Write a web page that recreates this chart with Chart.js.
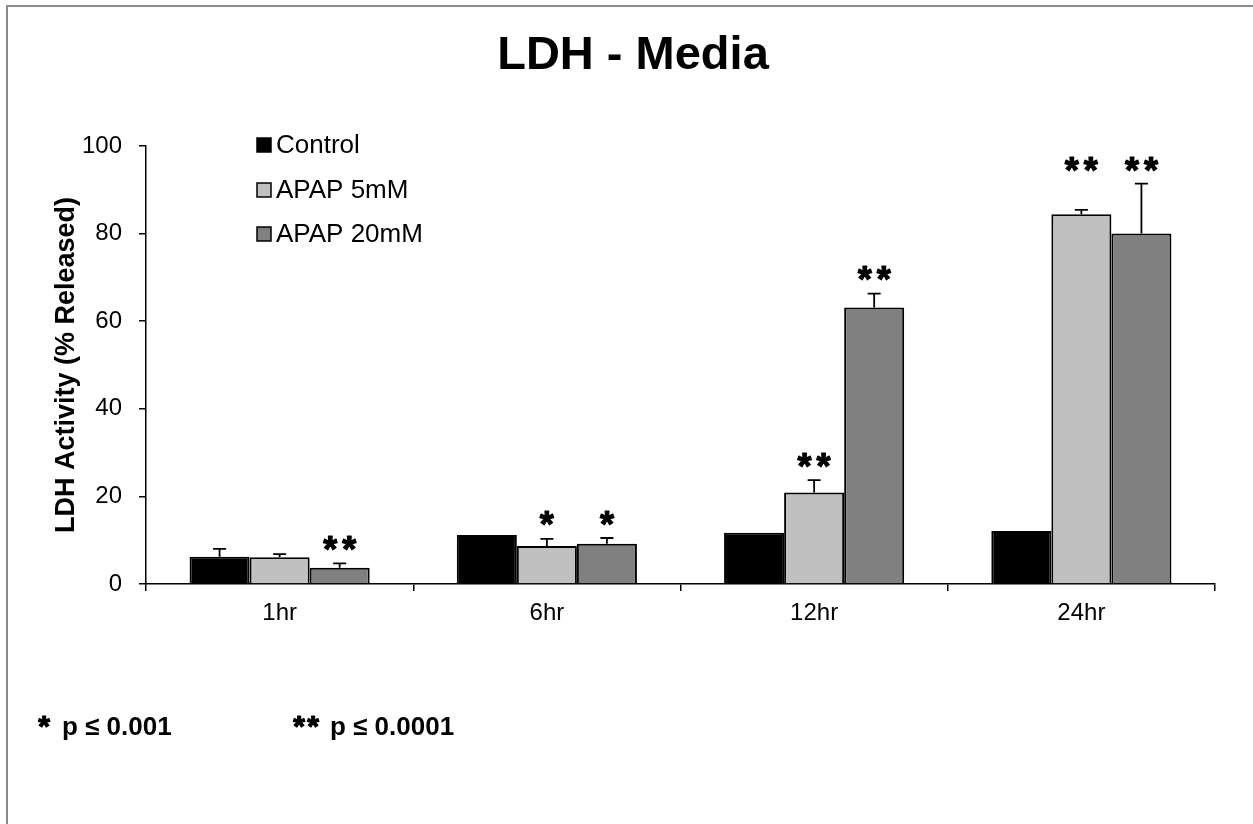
<!DOCTYPE html>
<html>
<head>
<meta charset="utf-8">
<title>LDH - Media</title>
<script src="https://cdn.jsdelivr.net/npm/chart.js@4/dist/chart.umd.min.js"></script>
<style>
  html, body { margin: 0; padding: 0; background: #ffffff; }
  canvas { display: block; }
</style>
</head>
<body>
<canvas id="ldh" width="1253" height="824"></canvas>
<script>
// Time points and groups
const timepoints = ['1hr', '6hr', '12hr', '24hr'];
const seriesNames = ['Control', 'APAP 5mM', 'APAP 20mM'];

// Mean LDH released (%)
const controlMean = [6.2, 11.2, 11.7, 12.1];
const apap5Mean   = [6.1, 8.7, 20.9, 84.4];
const apap20Mean  = [3.7, 9.2, 63.1, 80.0];

// Upper error (SD)
const controlErr = [1.8, 0, 0, 0];
const apap5Err   = [0.7, 1.6, 2.8, 1.0];
const apap20Err  = [1.0, 1.3, 3.2, 11.4];

// Significance markers vs control
const controlSig = ['', '', '', ''];
const apap5Sig   = ['', '*', '**', '**'];
const apap20Sig  = ['**', '*', '**', '**'];

// Y axis ticks
const yTicks = [0, 20, 40, 60, 80, 100];

// Footnotes: marker and its p-value threshold
const footStars = ['*', '**'];
const footTexts = ['p \u2264 0.001', 'p \u2264 0.0001'];

const FONT = "'Liberation Sans', Arial, Helvetica, sans-serif";
const fills = ['#000000', '#c0c0c0', '#808080'];

const errorSets = [controlErr, apap5Err, apap20Err];
const sigSets = [controlSig, apap5Sig, apap20Sig];

// draws a run of heavy asterisks, centred on x, glyph centres `gap` apart
function drawStars(ctx, mark, x, cy, size, gap) {
  ctx.font = 'bold ' + size + 'px ' + FONT;
  ctx.textAlign = 'center';
  ctx.textBaseline = 'alphabetic';
  ctx.strokeStyle = '#000';
  ctx.lineWidth = 1.2;
  ctx.lineJoin = 'round';
  const n = mark.length;
  for (let k = 0; k < n; k++) {
    const sx = x + (k - (n - 1) / 2) * gap;
    ctx.fillText('*', sx, cy + 0.58 * size);
    ctx.strokeText('*', sx, cy + 0.58 * size);
  }
}

// Plus-only error bars and significance stars
const errorBarPlugin = {
  id: 'errorBars',
  afterDatasetsDraw(chart) {
    const ctx = chart.ctx;
    const y = chart.scales.y;
    const tops = []; // [category][dataset] -> value at top of whisker
    chart.data.datasets.forEach((ds, di) => {
      const meta = chart.getDatasetMeta(di);
      meta.data.forEach((bar, i) => {
        const err = errorSets[di][i];
        const top = ds.data[i] + err;
        (tops[i] = tops[i] || [])[di] = top;
        if (!err) return;
        const yTop = y.getPixelForValue(top);
        const yBase = y.getPixelForValue(ds.data[i]);
        ctx.save();
        ctx.strokeStyle = '#000';
        ctx.lineWidth = 1.8;
        ctx.beginPath();
        ctx.moveTo(bar.x, yBase);
        ctx.lineTo(bar.x, yTop);
        ctx.moveTo(bar.x - 6.5, yTop);
        ctx.lineTo(bar.x + 6.5, yTop);
        ctx.stroke();
        ctx.restore();
      });
    });
    // stars
    ctx.save();
    ctx.fillStyle = '#000';
    chart.data.datasets.forEach((ds, di) => {
      const meta = chart.getDatasetMeta(di);
      meta.data.forEach((bar, i) => {
        const mark = sigSets[di][i];
        if (!mark) return;
        // align with a neighbouring starred bar of similar height
        let anchor = tops[i][di];
        sigSets.forEach((s, dj) => {
          if (dj !== di && s[i] && Math.abs(tops[i][dj] - tops[i][di]) < 15) {
            anchor = Math.max(anchor, tops[i][dj]);
          }
        });
        const cy = y.getPixelForValue(anchor) - 22;
        drawStars(ctx, mark, bar.x, cy, 36, 19);
      });
    });
    ctx.restore();
  }
};

// Frame, title, legend and footnotes
const decorPlugin = {
  id: 'decor',
  afterDraw(chart) {
    const ctx = chart.ctx;
    ctx.save();
    // frame
    ctx.strokeStyle = '#8c8c8c';
    ctx.lineWidth = 2;
    ctx.beginPath();
    ctx.moveTo(7, 824);
    ctx.lineTo(7, 6);
    ctx.lineTo(1253, 6);
    ctx.stroke();

    // title
    ctx.fillStyle = '#000';
    ctx.textAlign = 'center';
    ctx.textBaseline = 'middle';
    ctx.font = 'bold 47px ' + FONT;
    ctx.fillText('LDH - Media', 633, 56);

    // legend
    ctx.textAlign = 'left';
    ctx.font = '26px ' + FONT;
    const rows = [145, 190, 234];
    chart.data.datasets.forEach((ds, di) => {
      const cy = rows[di];
      ctx.fillStyle = ds.backgroundColor;
      ctx.fillRect(257, cy - 7, 14, 14);
      ctx.strokeStyle = '#000';
      ctx.lineWidth = 1.5;
      ctx.strokeRect(257, cy - 7, 14, 14);
      ctx.fillStyle = '#000';
      ctx.fillText(ds.label, 276, cy + 1);
    });

    // footnotes
    const starX = [44, 306];
    const textX = [62, 330];
    footStars.forEach((m, k) => {
      drawStars(ctx, m, starX[k], 719, 30, 14);
      ctx.font = 'bold 26px ' + FONT;
      ctx.textAlign = 'left';
      ctx.textBaseline = 'alphabetic';
      ctx.fillText(footTexts[k], textX[k], 735);
    });
    ctx.restore();
  }
};

new Chart(document.getElementById('ldh'), {
  type: 'bar',
  data: {
    labels: timepoints,
    datasets: [
      { label: seriesNames[0], data: controlMean, backgroundColor: fills[0] },
      { label: seriesNames[1], data: apap5Mean, backgroundColor: fills[1] },
      { label: seriesNames[2], data: apap20Mean, backgroundColor: fills[2] }
    ]
  },
  options: {
    responsive: false,
    animation: false,
    devicePixelRatio: 1,
    layout: { padding: { top: 146, left: 0, right: 38, bottom: 200 } },
    datasets: {
      bar: {
        borderColor: '#000',
        borderWidth: 2,
        categoryPercentage: 0.674,
        barPercentage: 1.0
      }
    },
    plugins: {
      legend: { display: false },
      title: { display: false },
      tooltip: { enabled: false }
    },
    scales: {
      x: {
        offset: true,
        grid: {
          offset: true,
          drawOnChartArea: false,
          drawTicks: true,
          tickLength: 7,
          color: '#000',
          lineWidth: 1.5
        },
        border: { display: true, color: '#000', width: 1.5 },
        ticks: {
          color: '#000',
          padding: 8,
          font: { family: FONT, size: 24 }
        },
        afterFit(scale) { scale.height = 40; }
      },
      y: {
        min: 0,
        max: 100,
        afterBuildTicks(scale) {
          scale.ticks = yTicks.map(v => ({ value: v }));
        },
        grid: {
          drawOnChartArea: false,
          drawTicks: true,
          tickLength: 7,
          color: '#000',
          lineWidth: 1.5
        },
        border: { display: true, color: '#000', width: 1.5 },
        ticks: {
          color: '#000',
          padding: 17,
          font: { family: FONT, size: 24 }
        },
        title: {
          display: true,
          text: 'LDH Activity (% Released)',
          color: '#000',
          font: { family: FONT, size: 27, weight: 'bold' },
          padding: { top: 50, bottom: 0 }
        },
        afterFit(scale) { scale.width = 146; }
      }
    }
  },
  plugins: [errorBarPlugin, decorPlugin]
});
</script>
</body>
</html>
